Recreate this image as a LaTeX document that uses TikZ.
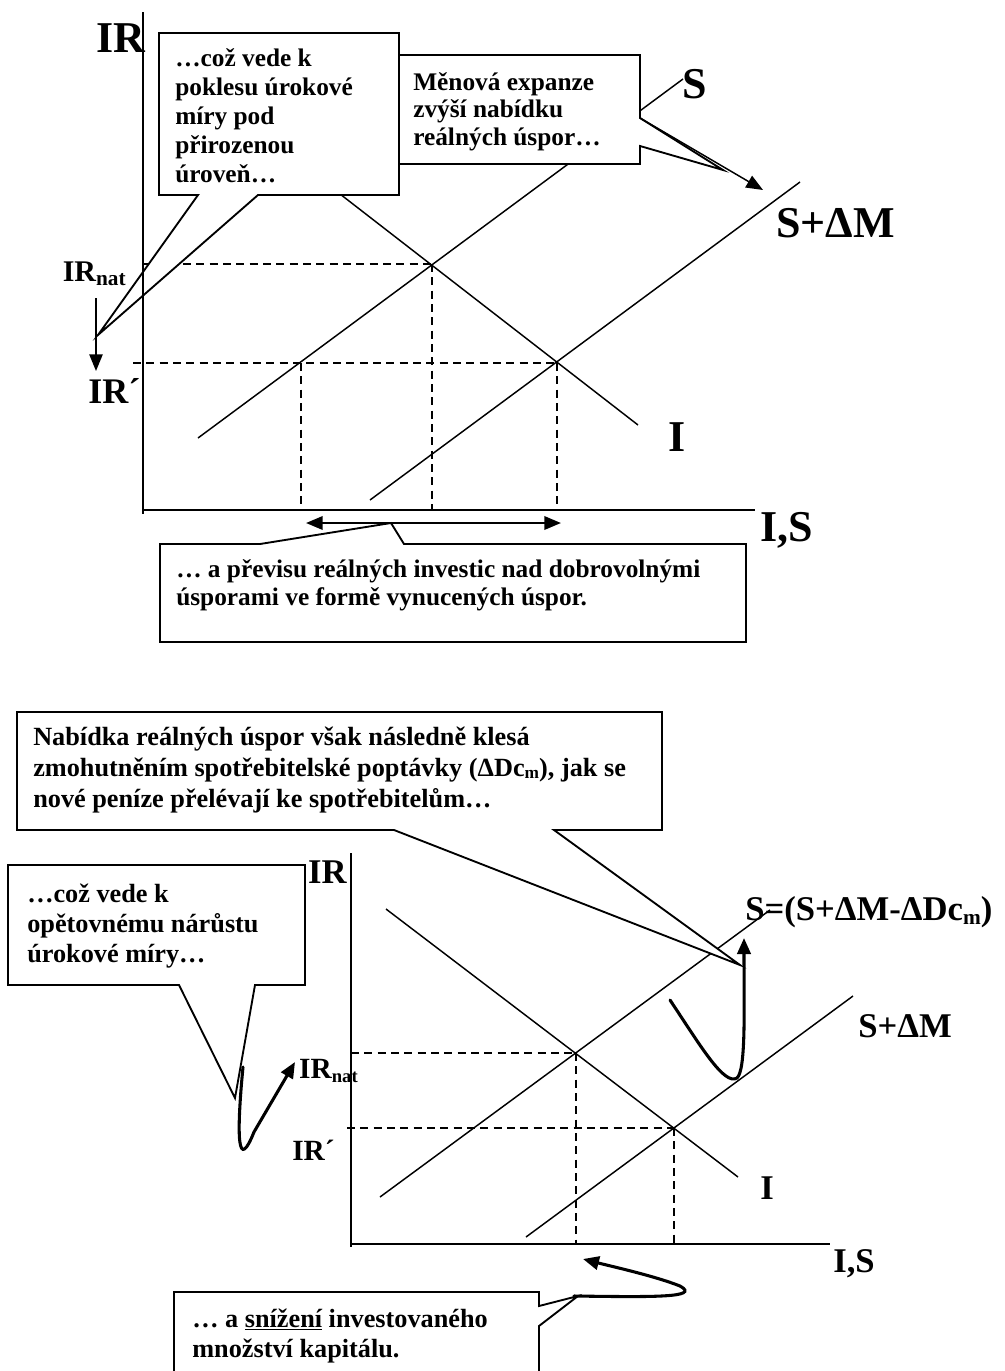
\documentclass[tikz,border=0pt]{standalone}
\usepackage{fontspec}
\setmainfont{Liberation Serif}
\usetikzlibrary{arrows.meta}
\begin{document}
\begin{tikzpicture}[x=0.75pt,y=-0.75pt,
  curveline/.style={line width=1.1pt},
  axisline/.style={line width=1.4pt},
  guideline/.style={line width=1.1pt, dash pattern=on 6pt off 4pt},
  callout/.style={draw, fill=white, line width=1.4pt, line join=miter},
  thinarrow/.style={line width=1.1pt, -{Triangle[length=12.5pt,width=10pt]}},
  thickarrow/.style={line width=2.3pt, line cap=round, -{Triangle[length=12pt,width=10pt]}},
  % multi-line notes: the base anchor sits on the last line
  topnote/.style={anchor=base west, align=left, inner sep=0pt, font=\bfseries\fontsize{19}{#1}\selectfont},
  lownote/.style={anchor=base west, align=left, inner sep=0pt, font=\bfseries\fontsize{19.7}{#1}\selectfont},
  biglabel/.style={inner sep=0pt, font=\bfseries\fontsize{33}{33}\selectfont},
  midlabel/.style={inner sep=0pt, font=\bfseries\fontsize{26}{26}\selectfont},
]
\useasboundingbox (0,0) rectangle (1004,1371);
\clip (0,0) rectangle (1004,1371);

% ---------------- upper chart ----------------
\coordinate (tEq)  at (432,264);  % I meets S
\coordinate (tEqM) at (557,363);  % I meets S+dM
\coordinate (tSlo) at (301,363);  % S at the lower rate
\coordinate (tAxY) at (143,12);
\coordinate (tOrg) at (143,510);
\coordinate (tAxX) at (755,510);

% guides
\draw[guideline] (tEq -| tOrg) -- (tEq);
\draw[guideline] (133,363) -- (tEqM);
\draw[guideline] (tSlo) -- (tSlo |- tOrg);
\draw[guideline] (tEq) -- (tEq |- tOrg);
\draw[guideline] (tEqM) -- (tEqM |- tOrg);

% curves
\draw[curveline] (198,438) -- (683,79);      % S
\draw[curveline] (370,500) -- (800,182);     % S + dM
\draw[curveline] (300,163) -- (638,425);     % I

% callouts
\draw[callout] (159,33) -- (399,33) -- (399,195) -- (258,195) -- (98,335) -- (198,195) -- (159,195) -- cycle;
\draw[callout] (399,55) -- (640,55) -- (640,118) -- (723,170) -- (640,146) -- (640,164) -- (399,164) -- cycle;
\draw[callout] (160,544) -- (260,544) -- (391,523) -- (404,544) -- (746,544) -- (746,642) -- (160,642) -- cycle;

% axes
\draw[axisline] (tAxY) -- (143,514);
\draw[axisline] (tOrg) -- (tAxX);

% arrows
\draw[thinarrow] (96,298) -- (96,371);
\draw[thinarrow] (640,118) -- (763,190);
\draw[line width=1.8pt, {Triangle[length=12.5pt,width=10pt]}-{Triangle[length=12.5pt,width=10pt]}] (306,523) -- (561,523);

% labels
\node[biglabel, anchor=base west] (tIR) at (96,52) {IR};
\node[biglabel, anchor=base west] (tS) at (682,98) {S};
\node[biglabel, anchor=base west] (tSM) at (776,237) {S+ΔM};
\node[biglabel, anchor=base west] (tI) at (668,451) {I};
\node[biglabel, anchor=base west] (tIS) at (760,541) {I,S};
\node[inner sep=0pt, anchor=base east, font=\bfseries] (tIRnat) at (126,281)
  {{\fontsize{22.5}{22.5}\selectfont IR}{\fontsize{16}{16}\selectfont\raisebox{-3pt}{nat}}};
\node[inner sep=0pt, anchor=base west, font=\bfseries\fontsize{27}{27}\selectfont] (tIRp) at (88,403) {IR´};

% callout texts
\node[topnote=21.75pt] (tNoteA) at (175,182)
  {…což vede k\\poklesu úrokové\\míry pod\\přirozenou\\úroveň…};
\node[topnote=20.6pt] (tNoteB) at (413,145)
  {Měnová expanze\\zvýší nabídku\\reálných úspor…};
\node[topnote=21pt] (tNoteC) at (176,605)
  {… a převisu reálných investic nad dobrovolnými\\úsporami ve formě vynucených úspor.};

% ---------------- lower chart ----------------
\coordinate (bEq)  at (576,1053);  % I meets S
\coordinate (bEqM) at (674,1128);  % I meets S+dM
\coordinate (bAxY) at (351,853);
\coordinate (bOrg) at (351,1244);
\coordinate (bAxX) at (830,1244);

\draw[guideline] (bEq -| bOrg) -- (bEq);
\draw[guideline] (347,1128) -- (bEqM);
\draw[guideline] (bEq) -- (bEq |- bOrg);
\draw[guideline] (bEqM) -- (bEqM |- bOrg);

\draw[curveline] (386,909) -- (738,1177);    % I
\draw[curveline] (380,1197) -- (770,910);    % S
\draw[curveline] (526,1237) -- (853,996);    % S + dM

\draw[callout] (17,712) -- (662,712) -- (662,830) -- (554,830) -- (740,965) -- (394,830) -- (17,830) -- cycle;
\draw[callout] (8,865) -- (305,865) -- (305,985) -- (255,985) -- (235,1098) -- (179,985) -- (8,985) -- cycle;
\draw[callout] (174,1400) -- (174,1292) -- (539,1292) -- (539,1306) -- (578,1296) -- (539,1326) -- (539,1400) -- cycle;

\draw[axisline] (bAxY) -- (351,1247);
\draw[axisline] (bOrg) -- (bAxX);

\draw[thickarrow] (243,1067) .. controls (236,1140) and (238,1172) .. (254,1132) -- (295,1062);
\draw[thickarrow] (670,1000) .. controls (700,1045) and (724,1086) .. (737,1078) .. controls (746,1070) and (744,1010) .. (744,938);
\draw[thickarrow] (574,1296) .. controls (650,1297) and (702,1298) .. (680,1286) .. controls (655,1276) and (610,1266) .. (583,1259);

\node[midlabel, anchor=base east] (bIR) at (347,883) {IR};
\node[midlabel, anchor=base west] (bSnew) at (745,920)
  {S=(S+ΔM-ΔDc{\fontsize{16}{16}\selectfont\raisebox{-3pt}{m}})};
\node[midlabel, anchor=base west] (bSM) at (858,1037) {S+ΔM};
\node[midlabel, anchor=base west] (bI) at (760,1199) {I};
\node[midlabel, anchor=base west] (bIS) at (833,1272) {I,S};
\node[inner sep=0pt, anchor=base east, font=\bfseries] (bIRnat) at (358,1078)
  {{\fontsize{22}{22}\selectfont IR}{\fontsize{14}{14}\selectfont\raisebox{-3pt}{nat}}};
\node[inner sep=0pt, anchor=base west, font=\bfseries\fontsize{22}{22}\selectfont] (bIRp) at (292,1160) {IR´};

\node[lownote=23.25pt] (bNoteA) at (33,807)
  {Nabídka reálných úspor však následně klesá\\zmohutněním spotřebitelské poptávky (ΔDc{\fontsize{13}{13}\selectfont\raisebox{-2pt}{m}}), jak se\\nové peníze přelévají ke spotřebitelům…};
\node[lownote=22.5pt] (bNoteB) at (27,962)
  {…což vede k\\opětovnému nárůstu\\úrokové míry…};
\node[lownote=22.5pt] (bNoteC) at (192,1357)
  {… a \underline{snížení} investovaného\\množství kapitálu.};
\end{tikzpicture}
\end{document}
